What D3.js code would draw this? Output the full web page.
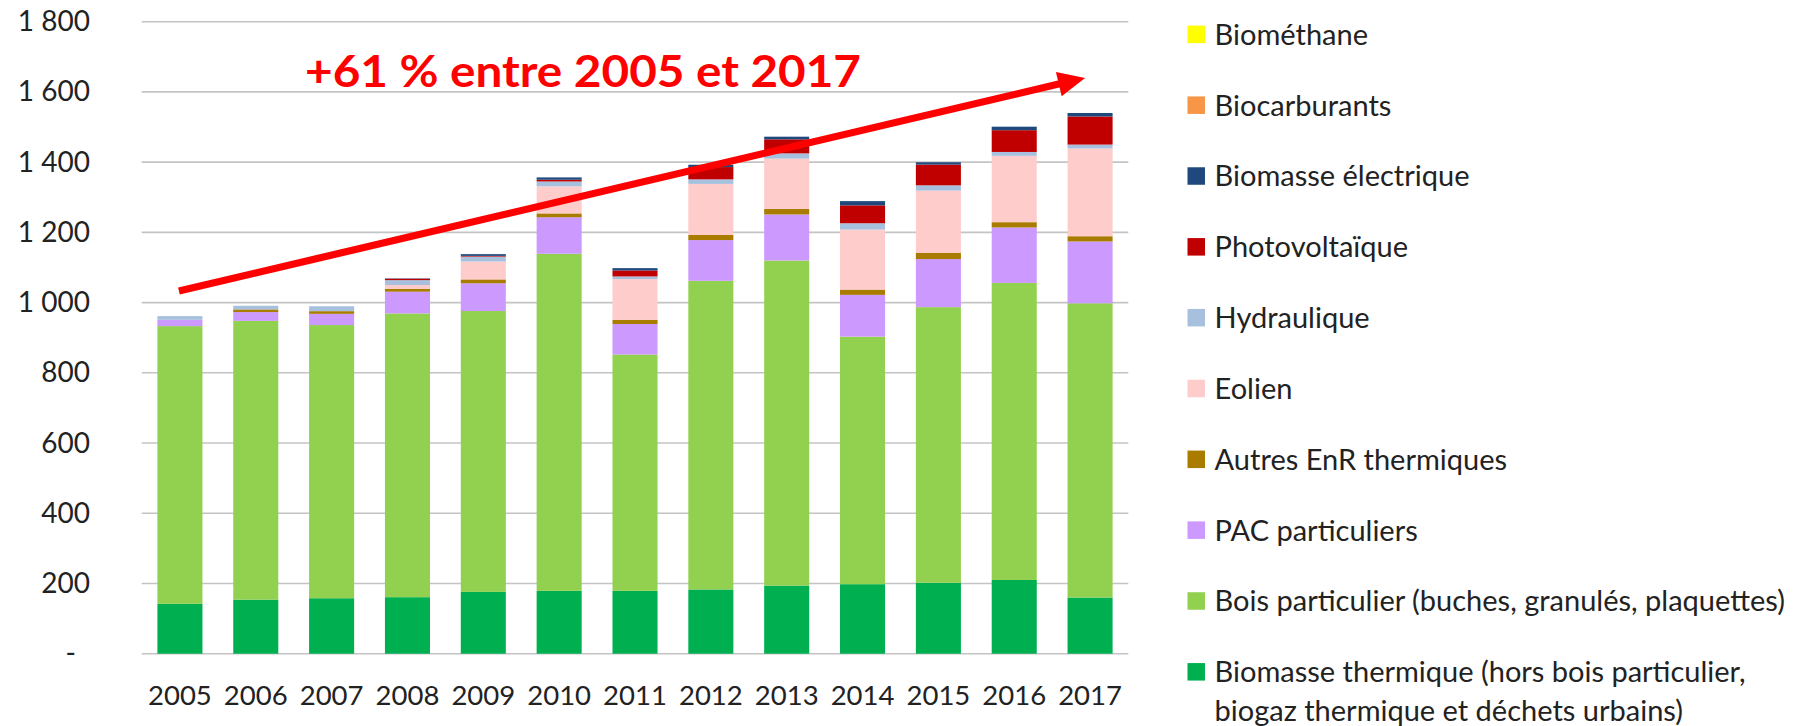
<!DOCTYPE html>
<html><head><meta charset="utf-8">
<script src="https://cdn.jsdelivr.net/npm/d3@7/dist/d3.min.js"></script>
<style>
html,body{margin:0;padding:0;background:#fff;}
svg{display:block;font-family:Lato, "Open Sans", sans-serif;}
</style></head>
<body><svg id="chart" width="1810" height="726"></svg>
<script>
const years = ["2005","2006","2007","2008","2009","2010","2011","2012","2013","2014","2015","2016","2017"];
const seriesNames = ["Biomasse thermique (hors bois particulier, biogaz thermique et déchets urbains)",
  "Bois particulier (buches, granulés, plaquettes)","PAC particuliers","Autres EnR thermiques",
  "Eolien","Hydraulique","Photovoltaïque","Biomasse électrique","Biocarburants","Biométhane"];
const biomasseThermique = [142,154,158,161,176,179,179,183,194,198,202,210,160];
const boisParticulier   = [791,794,778,808,800,960,673,879,926,705,785,846,838];
const pacParticuliers   = [18,25,32,62,79,104,87,116,131,119,137,158,176];
const autresThermiques  = [0,7.5,7.6,8.5,11,11,12,15,16,15,18,15,15];
const eolien            = [0,0,0,10.5,51,77,116,145,143,171,177,189,250];
const hydraulique       = [10.5,10.5,14,14,14,14,7.5,13,15,18,15,11,11];
const photovoltaique    = [0,0,0,4,2,5,17,35,40,51,59,62,80];
const biomasseElec      = [0,0,0,1,5,6.5,6.6,6.6,7.5,12,6.6,10,10];
const biocarburants     = [0,0,0,0,0,0,0,0,0,0,0,0,0];
const biomethane        = [0,0,0,0,0,0,0,0,0,0,0,0,0];
const seriesValues = [biomasseThermique,boisParticulier,pacParticuliers,autresThermiques,eolien,hydraulique,photovoltaique,biomasseElec,biocarburants,biomethane];
const colors = ["#00B050","#92D050","#CC99FF","#A97C00","#FFCCCC","#A7C0DE","#C00000","#1F497D","#F79646","#FFFF00"];
const yTicks = [0,200,400,600,800,1000,1200,1400,1600,1800];
const legendLines = [["Biométhane"],["Biocarburants"],["Biomasse électrique"],["Photovoltaïque"],["Hydraulique"],["Eolien"],
  ["Autres EnR thermiques"],["PAC particuliers"],["Bois particulier (buches, granulés, plaquettes)"],
  ["Biomasse thermique (hors bois particulier,","biogaz thermique et déchets urbains)"]];
const legendColors = ["#FFFF00","#F79646","#1F497D","#C00000","#A7C0DE","#FFCCCC","#A97C00","#CC99FF","#92D050","#00B050"];
const annotationText = "+61 % entre 2005 et 2017";
const arrowFrom = {year:"2005", value:1033};
const arrowTo = {year:"2017", value:1640};

const svg = d3.select("#chart");
const x = d3.scaleBand().domain(years).range([142,1128]).paddingInner(0.406).paddingOuter(0.203);
const y = d3.scaleLinear().domain([0,1800]).range([653.7,21.7]);

// gridlines
svg.append("g").selectAll("line").data(yTicks).join("line")
  .attr("x1",141.7).attr("x2",1128.3)
  .attr("y1",d=>y(d)).attr("y2",d=>y(d))
  .attr("stroke","#C4C4C4").attr("stroke-width",1.6);

// y labels
const yAxis = d3.axisLeft(y).tickValues(yTicks).tickSize(0).tickPadding(0)
  .tickFormat(d=> d===0 ? "-" : d3.format(",")(d).replace(/,/g," "));
const ya = svg.append("g").attr("transform","translate(90,0)").call(yAxis);
ya.select(".domain").remove();
ya.selectAll("text").attr("font-size",28).attr("fill","#222").attr("font-family","Lato")
  .attr("dx",d=>d===0? -14 : 0);

// x labels
const xAxis = d3.axisBottom(x).tickSize(0).tickPadding(0);
const xa = svg.append("g").attr("transform","translate(0,684)").call(xAxis);
xa.select(".domain").remove();
xa.selectAll("text").attr("font-size",27.5).attr("fill","#222").attr("font-family","Lato").attr("dy","0.76em");

// stacked bars
const table = years.map((yr,i)=>{const o={year:yr}; seriesNames.forEach((s,j)=>o[s]=seriesValues[j][i]); return o;});
const stack = d3.stack().keys(seriesNames)(table);
svg.append("g").selectAll("g").data(stack).join("g").attr("fill",(d,i)=>colors[i])
  .selectAll("rect").data(d=>d).join("rect")
  .attr("x",d=>x(d.data.year)).attr("width",x.bandwidth())
  .attr("y",d=>y(d[1])).attr("height",d=>Math.max(0,y(d[0])-y(d[1])));

// arrow
const x0 = x(arrowFrom.year)+x.bandwidth()/2-1, y0 = y(arrowFrom.value);
const x1 = x(arrowTo.year)+x.bandwidth()/2-5, y1 = y(arrowTo.value);
const ang = Math.atan2(y1-y0,x1-x0), headL=27, headW=12.5;
const bx = x1-headL*Math.cos(ang), by = y1-headL*Math.sin(ang);
svg.append("line").attr("x1",x0).attr("y1",y0).attr("x2",bx+2*Math.cos(ang)).attr("y2",by+2*Math.sin(ang))
  .attr("stroke","#FF0000").attr("stroke-width",7.2);
svg.append("polygon").attr("fill","#FF0000")
  .attr("points",[[x1,y1],[bx+headW*Math.sin(ang),by-headW*Math.cos(ang)],[bx-headW*Math.sin(ang),by+headW*Math.cos(ang)]].map(p=>p.join(",")).join(" "));

// annotation text
svg.append("text").attr("x",305).attr("y",86.5).attr("fill","#FF0000")
  .attr("font-family","Lato").attr("font-weight","bold").attr("font-size",44)
  .attr("textLength",556).attr("lengthAdjust","spacingAndGlyphs").text(annotationText);

// legend
const lg = svg.append("g");
legendLines.forEach((lines,i)=>{
  const cy = 34.3 + 70.83*i;
  lg.append("rect").attr("x",1187.5).attr("y",cy-8.7).attr("width",17.5).attr("height",17.5).attr("fill",legendColors[i]);
  lines.forEach((t,k)=>{
    lg.append("text").attr("x",1214.6).attr("y",cy+k*38.5).attr("dy","0.36em")
      .attr("font-size",29).attr("fill","#222").attr("font-family","Lato").text(t);
  });
});
</script></body></html>
